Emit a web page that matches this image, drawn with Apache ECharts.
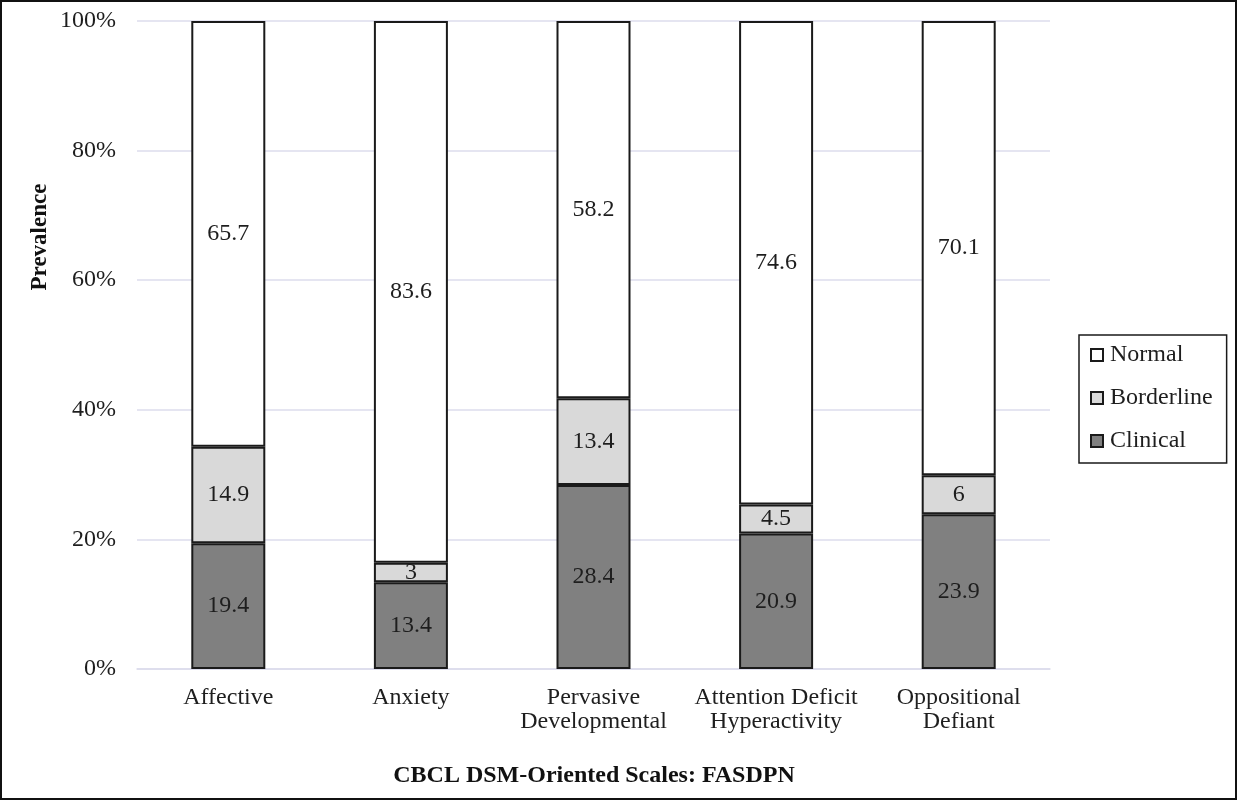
<!DOCTYPE html>
<html>
<head>
<meta charset="utf-8">
<script src="https://cdn.jsdelivr.net/npm/echarts@6/dist/echarts.min.js"></script>
<style>
  html, body { margin: 0; padding: 0; background: #fff; }
  #chart { width: 1238px; height: 801px; }
</style>
</head>
<body>
<div id="chart"></div>
<script>
// CBCL DSM-oriented scales, prevalence (%) by classification
const categories = ['Affective', 'Anxiety', 'Pervasive\nDevelopmental', 'Attention Deficit\nHyperactivity', 'Oppositional\nDefiant'];
const clinical = [19.4, 13.4, 28.4, 20.9, 23.9];
const borderline = [14.9, 3, 13.4, 4.5, 6];
const normal = [65.7, 83.6, 58.2, 74.6, 70.1];
const yTicks = [0, 20, 40, 60, 80, 100];

const FONT = '"Liberation Serif", "Times New Roman", serif';
const TEXT = '#1e1e1e';

function barSeries(name, data, color) {
  return {
    name: name,
    type: 'bar',
    stack: 'total',
    data: data,
    barWidth: 74,
    itemStyle: { color: color, borderColor: '#1a1a1a', borderWidth: 2 },
    label: {
      show: true,
      position: 'inside',
      formatter: p => String(p.value),
      fontFamily: FONT,
      fontSize: 24,
      color: TEXT
    },
    emphasis: { disabled: true }
  };
}

const chart = echarts.init(document.getElementById('chart'), null, { renderer: 'canvas' });
chart.setOption({
  animation: false,
  backgroundColor: '#ffffff',
  grid: { left: 137, right: 188, top: 21, bottom: 132 },
  xAxis: {
    type: 'category',
    data: categories,
    axisLine: { show: true, lineStyle: { color: '#dcdcec', width: 1.5 } },
    axisTick: { show: false },
    axisLabel: { fontFamily: FONT, fontSize: 24, color: TEXT, margin: 17, lineHeight: 24, interval: 0 }
  },
  yAxis: {
    type: 'value',
    min: yTicks[0],
    max: yTicks[yTicks.length - 1],
    interval: yTicks[1] - yTicks[0],
    axisLine: { show: false },
    axisTick: { show: false },
    splitLine: { lineStyle: { color: '#dcdcec', width: 1.5 } },
    axisLabel: { fontFamily: FONT, fontSize: 24, color: TEXT, margin: 21, formatter: v => v + '%' }
  },
  legend: {
    data: ['Normal', 'Borderline', 'Clinical'],
    orient: 'vertical',
    left: 1079,
    top: 335,
    itemWidth: 12,
    itemHeight: 12,
    itemGap: 19,
    padding: [8, 14, 10, 11],
    borderColor: '#1a1a1a',
    borderWidth: 1.5,
    icon: 'rect',
    selectedMode: false,
    textStyle: { fontFamily: FONT, fontSize: 24, color: TEXT, padding: [0, 0, 0, 2] }
  },
  graphic: [
    {
      type: 'rect',
      shape: { x: 1, y: 1, width: 1235, height: 798 },
      style: { fill: 'none', stroke: '#111', lineWidth: 2 },
      silent: true
    },
    {
      type: 'text',
      x: 40,
      y: 237,
      rotation: Math.PI / 2,
      style: {
        text: 'Prevalence',
        fontFamily: FONT,
        fontSize: 23,
        fontWeight: 'bold',
        fill: '#111',
        align: 'center',
        verticalAlign: 'middle'
      }
    },
    {
      type: 'text',
      x: 594,
      y: 776,
      style: {
        text: 'CBCL DSM-Oriented Scales: FASDPN',
        fontFamily: FONT,
        fontSize: 24,
        fontWeight: 'bold',
        fill: '#111',
        align: 'center',
        verticalAlign: 'middle'
      }
    }
  ],
  series: [
    barSeries('Clinical', clinical, '#808080'),
    barSeries('Borderline', borderline, '#d9d9d9'),
    barSeries('Normal', normal, '#ffffff')
  ]
});
</script>
</body>
</html>
